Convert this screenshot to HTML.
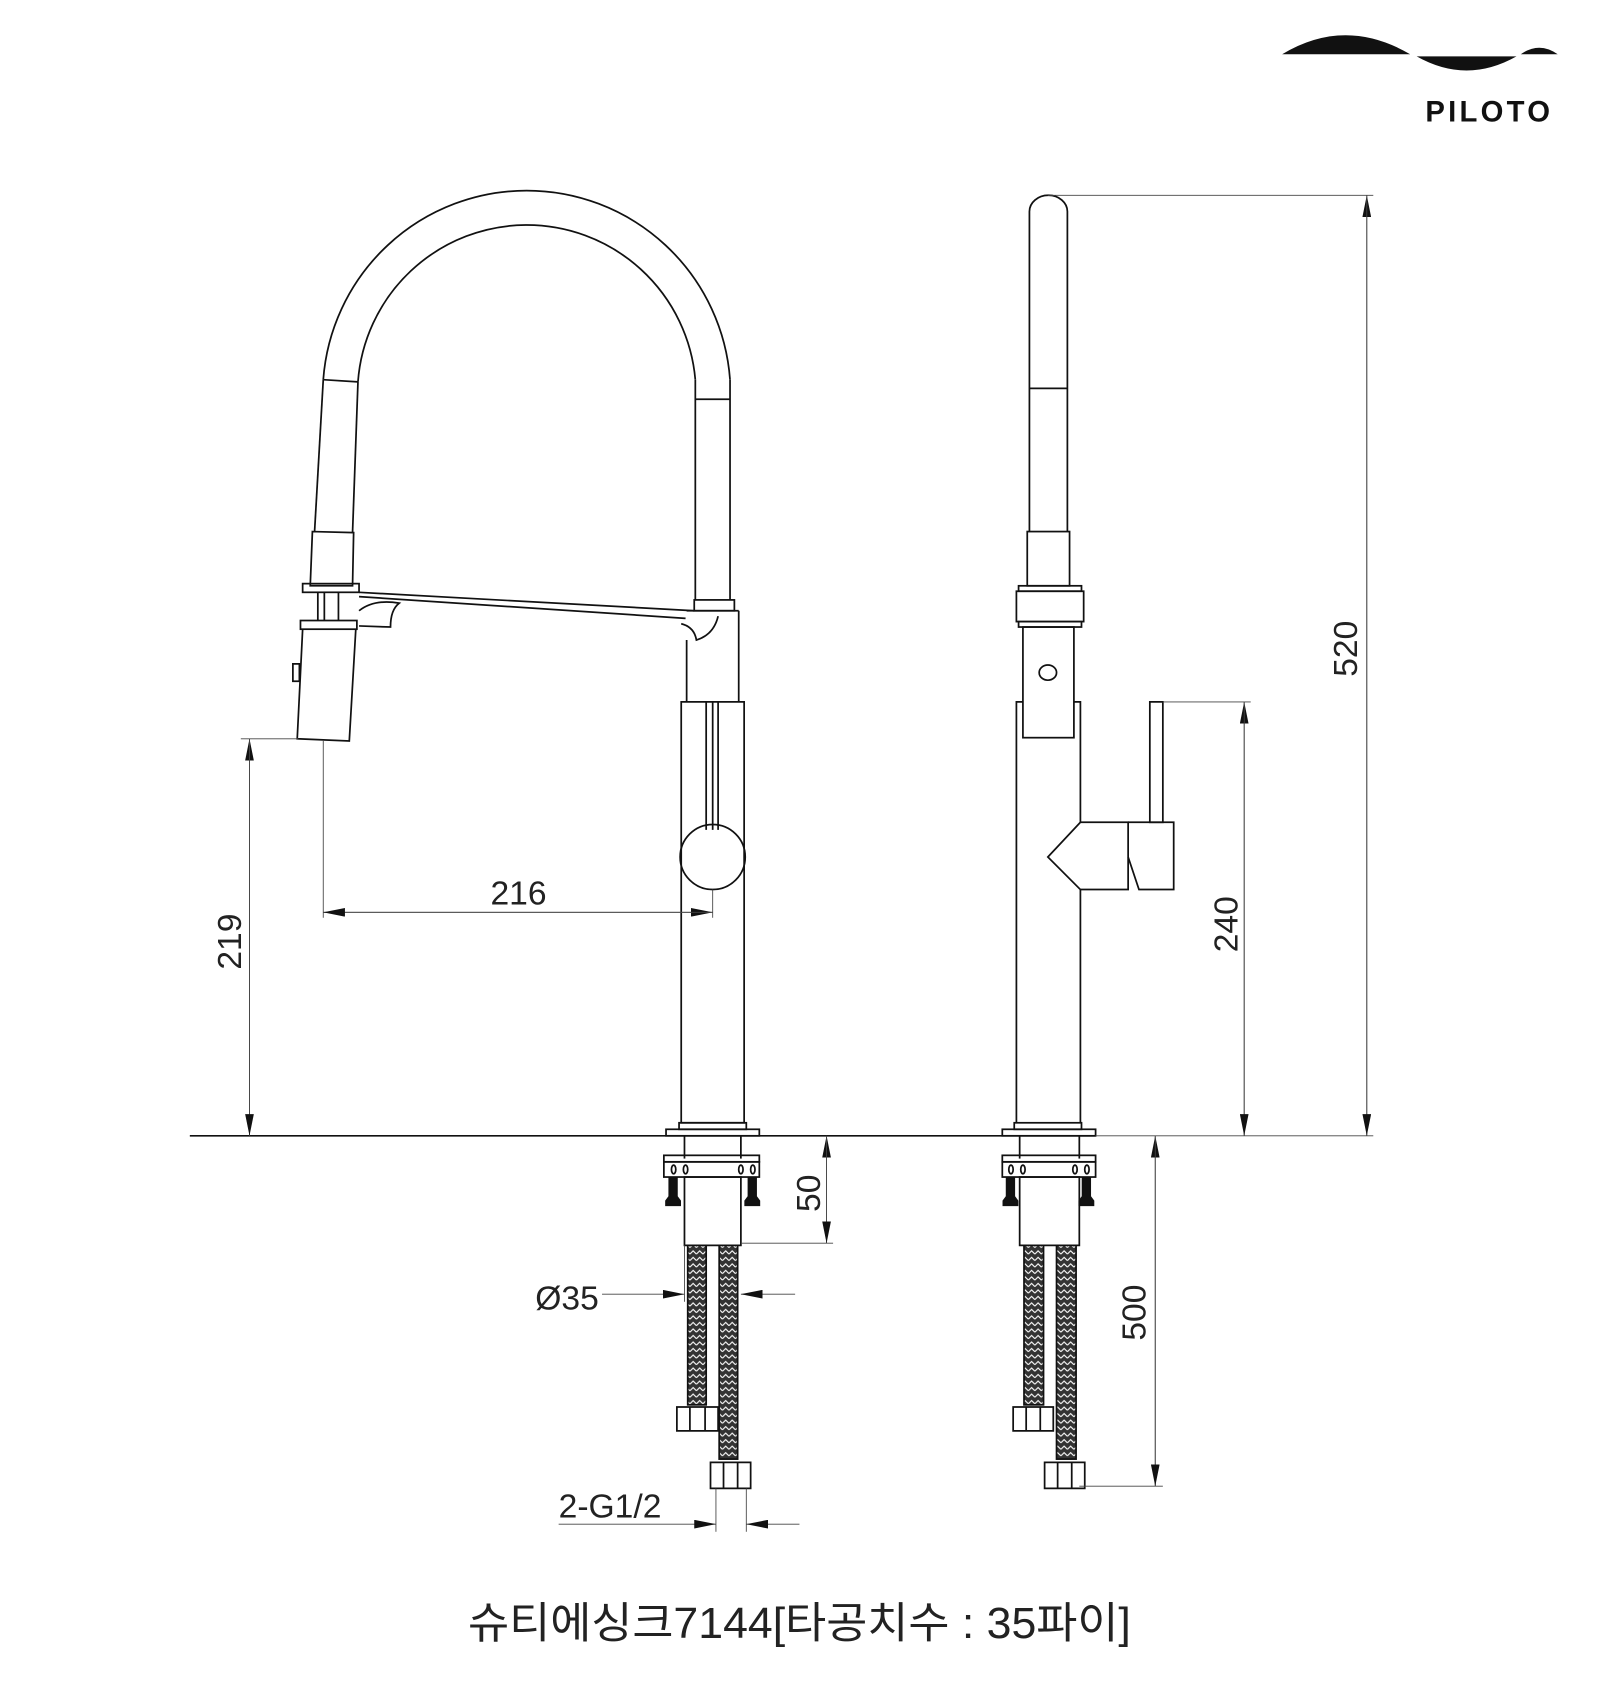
<!DOCTYPE html>
<html><head><meta charset="utf-8"><style>
html,body{margin:0;padding:0;background:#fff;width:1600px;height:1701px;overflow:hidden}
svg{display:block}
text{font-family:"Liberation Sans","Noto Sans CJK KR",sans-serif;fill:#222}
</style></head><body>
<svg width="1600" height="1701" viewBox="0 0 1475 1568" preserveAspectRatio="none" xmlns="http://www.w3.org/2000/svg">
<defs>
<pattern id="hz" width="6" height="6" patternUnits="userSpaceOnUse">
<rect width="6" height="6" fill="#333"/>
<path d="M0 4 L3 1 L6 4" stroke="#fff" stroke-width="1" fill="none"/>
</pattern>
<marker id="ar" viewBox="0 0 20 8" refX="20" refY="4" markerWidth="20" markerHeight="8" markerUnits="userSpaceOnUse" orient="auto"><path d="M0 0 L20 4 L0 8Z" fill="#111"/></marker>
</defs>
<!-- logo -->
<path d="M1182 50 Q1240 15 1300 50 Z" fill="#111"/>
<path d="M1306 52 Q1352 78 1398 52 Z" fill="#111"/>
<path d="M1402 50 Q1419 38 1436 50 Z" fill="#111"/>
<text x="1314" y="112" font-size="27" font-weight="bold" letter-spacing="3" style="fill:#111">PILOTO</text>

<g fill="none" stroke="#111" stroke-width="1.6">
<path d="M298 350 A188 188 0 0 1 673 350"/>
<path d="M330 352 A156 156 0 0 1 641 350"/>
<line x1="298" y1="350" x2="290" y2="490"/>
<line x1="330" y1="352" x2="325" y2="491"/>
<line x1="298" y1="350" x2="330" y2="352"/>
<line x1="641" y1="350" x2="641" y2="553"/>
<line x1="673" y1="350" x2="673" y2="553"/>
<line x1="641" y1="368" x2="673" y2="368"/>
<path d="M288 490 L326 491 L325 540 L286 540Z"/>
<rect x="279" y="538" width="52" height="8"/>
<rect x="277" y="572" width="52" height="8"/>
<line x1="293" y1="546" x2="293" y2="572"/><line x1="299" y1="546" x2="299" y2="572"/><line x1="312" y1="546" x2="312" y2="572"/>
<path d="M279 580 L274 681 L322 683 L328 580"/>
<path d="M270 612 h6 v16 h-6z"/>
<line x1="331" y1="546" x2="640" y2="563"/>
<line x1="331" y1="550" x2="632" y2="570"/>
<path d="M331 563 Q345 552 368 556 Q360 562 360 578 L331 577"/>
<path d="M628 575 Q640 578 642 590 Q658 585 662 568"/>
<rect x="640" y="553" width="37" height="10"/>
<path d="M633 590 L633 647 M681 563 L681 647 M633 563 L681 563"/>
<rect x="628" y="647" width="58" height="388"/>
<line x1="651" y1="647" x2="651" y2="765"/><line x1="662" y1="647" x2="662" y2="765"/><line x1="657" y1="647" x2="657" y2="765"/>
<circle cx="657" cy="790" r="30"/>
<rect x="626" y="1035" width="62" height="6"/>
<rect x="614" y="1041" width="86" height="6"/>
<line x1="631" y1="1047" x2="631" y2="1068"/><line x1="683" y1="1047" x2="683" y2="1068"/>
<rect x="612" y="1065" width="88" height="6"/>
<rect x="612" y="1071" width="88" height="14"/>
<rect x="631" y="1085" width="52" height="63"/>
<path d="M617 1085 v18 l-3 4 v4 h13 v-4 l-3 -4 v-18" fill="#111"/>
<path d="M690 1085 v18 l-3 4 v4 h13 v-4 l-3 -4 v-18" fill="#111"/>
<ellipse cx="621" cy="1078" rx="2" ry="4"/><ellipse cx="632" cy="1078" rx="2" ry="4"/><ellipse cx="683" cy="1078" rx="2" ry="4"/><ellipse cx="694" cy="1078" rx="2" ry="4"/>
<rect x="634" y="1148" width="17" height="147" fill="url(#hz)"/>
<rect x="663" y="1148" width="17" height="197" fill="url(#hz)"/>
<path d="M624 1297 h38 v22 h-38z M636 1297 v22 M650 1297 v22"/>
<path d="M655 1348 h37 v24 h-37z M667 1348 v24 M680 1348 v24"/>

<path d="M949 490 L949 195 A17.5 15 0 0 1 984 195 L984 490"/>
<line x1="949" y1="358" x2="984" y2="358"/>
<rect x="947" y="490" width="39" height="50"/>
<rect x="939" y="540" width="58" height="5"/>
<rect x="937" y="545" width="62" height="28"/>
<rect x="939" y="573" width="58" height="5"/>
<rect x="943" y="578" width="47" height="102"/>
<ellipse cx="966" cy="620" rx="8" ry="7"/>
<path d="M937 1035 V647 H943 M990 647 H996 V758 M996 820 V1035"/>
<path d="M996 758 L1040 758 L1040 820 L996 820 L966 790 Z"/>
<path d="M1040 758 H1082 V820 H1050 L1040 790"/>
<rect x="1060" y="647" width="12" height="111"/>
<rect x="935" y="1035" width="62" height="6"/>
<rect x="924" y="1041" width="86" height="6"/>
<line x1="940" y1="1047" x2="940" y2="1068"/><line x1="995" y1="1047" x2="995" y2="1068"/>
<rect x="924" y="1065" width="86" height="6"/>
<rect x="924" y="1071" width="86" height="14"/>
<rect x="940" y="1085" width="55" height="63"/>
<path d="M928 1085 v18 l-3 4 v4 h13 v-4 l-3 -4 v-18" fill="#111"/>
<path d="M998 1085 v18 l-3 4 v4 h13 v-4 l-3 -4 v-18" fill="#111"/>
<ellipse cx="932" cy="1078" rx="2" ry="4"/><ellipse cx="943" cy="1078" rx="2" ry="4"/><ellipse cx="991" cy="1078" rx="2" ry="4"/><ellipse cx="1002" cy="1078" rx="2" ry="4"/>
<rect x="944" y="1148" width="18" height="147" fill="url(#hz)"/>
<rect x="974" y="1148" width="18" height="197" fill="url(#hz)"/>
<path d="M934 1297 h37 v22 h-37z M946 1297 v22 M959 1297 v22"/>
<path d="M963 1348 h37 v24 h-37z M975 1348 v24 M988 1348 v24"/>
</g>

<line x1="175" y1="1047" x2="1010" y2="1047" stroke="#111" stroke-width="1.6"/>

<g stroke="#444" stroke-width="0.8" fill="none">
<line x1="1010" y1="1047" x2="1266" y2="1047"/>
<line x1="298" y1="683" x2="298" y2="846"/>
<line x1="657" y1="820" x2="657" y2="846"/>
<line x1="298" y1="841" x2="657" y2="841" marker-end="url(#ar)"/>
<line x1="657" y1="841" x2="298" y2="841" marker-end="url(#ar)"/>
<line x1="222" y1="681" x2="275" y2="681"/>
<line x1="230" y1="1047" x2="230" y2="681" marker-end="url(#ar)"/>
<line x1="230" y1="681" x2="230" y2="1047" marker-end="url(#ar)"/>
<line x1="683" y1="1146" x2="768" y2="1146"/>
<line x1="762" y1="1146" x2="762" y2="1047" marker-end="url(#ar)"/>
<line x1="762" y1="1047" x2="762" y2="1146" marker-end="url(#ar)"/>
<line x1="631" y1="1148" x2="631" y2="1200"/>
<line x1="555" y1="1193" x2="631" y2="1193" marker-end="url(#ar)"/>
<line x1="733" y1="1193" x2="683" y2="1193" marker-end="url(#ar)"/>
<line x1="660" y1="1372" x2="660" y2="1412"/>
<line x1="688" y1="1372" x2="688" y2="1412"/>
<line x1="515" y1="1405" x2="660" y2="1405" marker-end="url(#ar)"/>
<line x1="737" y1="1405" x2="688" y2="1405" marker-end="url(#ar)"/>
<line x1="1072" y1="647" x2="1153" y2="647"/>
<line x1="1147" y1="1047" x2="1147" y2="647" marker-end="url(#ar)"/>
<line x1="1147" y1="647" x2="1147" y2="1047" marker-end="url(#ar)"/>
<line x1="966" y1="180" x2="1266" y2="180"/>
<line x1="1260" y1="1047" x2="1260" y2="180" marker-end="url(#ar)"/>
<line x1="1260" y1="180" x2="1260" y2="1047" marker-end="url(#ar)"/>
<line x1="995" y1="1370" x2="1072" y2="1370"/>
<line x1="1065" y1="1370" x2="1065" y2="1047" marker-end="url(#ar)"/>
<line x1="1065" y1="1047" x2="1065" y2="1370" marker-end="url(#ar)"/>
</g>

<g font-size="31">
<text x="478" y="834" text-anchor="middle">216</text>
<text transform="translate(222 868) rotate(-90)" text-anchor="middle">219</text>
<text transform="translate(756 1100) rotate(-90)" text-anchor="middle">50</text>
<text x="552" y="1207" text-anchor="end">Ø35</text>
<text x="515" y="1399">2-G1/2</text>
<text transform="translate(1141 852) rotate(-90)" text-anchor="middle">240</text>
<text transform="translate(1251 598) rotate(-90)" text-anchor="middle">520</text>
<text transform="translate(1056 1210) rotate(-90)" text-anchor="middle">500</text>
</g>
<text x="737" y="1510" font-size="40" text-anchor="middle" textLength="611" lengthAdjust="spacingAndGlyphs">슈티에싱크7144[타공치수 : 35파이]</text>
</svg>
</body></html>
